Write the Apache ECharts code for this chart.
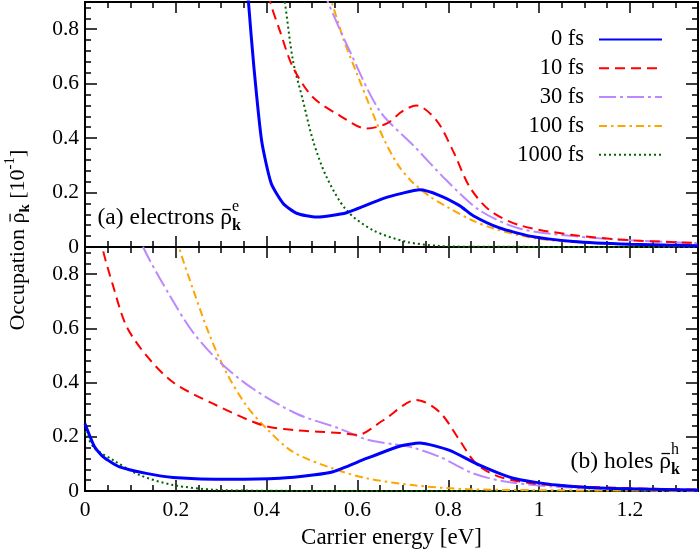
<!DOCTYPE html>
<html><head><meta charset="utf-8">
<script src="https://cdn.jsdelivr.net/npm/echarts@6/dist/echarts.min.js"></script>
<style>html,body{margin:0;padding:0;background:#fff}#c{width:700px;height:552px}</style>
</head><body><div id="c"></div>
<script>
const FONT = 'Liberation Serif';
const seriesNames = ['0 fs', '10 fs', '30 fs', '100 fs', '1000 fs'];
const xTickLabels = ['0', '0.2', '0.4', '0.6', '0.8', '1', '1.2'];
const yTickLabels = ['0', '0.2', '0.4', '0.6', '0.8'];

// (a) electrons
const e0x = [0.33, 0.360, 0.372, 0.389, 0.41, 0.436, 0.466, 0.51, 0.576, 0.656, 0.70, 0.737, 0.78, 0.825, 0.855, 0.913, 0.98, 1.075, 1.2, 1.35];
const e0y = [1.6, 0.90, 0.66, 0.39, 0.234, 0.161, 0.124, 0.11, 0.126, 0.178, 0.198, 0.21, 0.19, 0.152, 0.115, 0.07, 0.04, 0.02, 0.01, 0.005];
const e10x = [0.38, 0.408, 0.429, 0.458, 0.502, 0.561, 0.62, 0.664, 0.70, 0.73, 0.774, 0.81, 0.847, 0.891, 0.957, 1.075, 1.2, 1.35];
const e10y = [1.1, 0.9, 0.795, 0.66, 0.55, 0.483, 0.435, 0.453, 0.50, 0.52, 0.465, 0.355, 0.221, 0.135, 0.08, 0.044, 0.025, 0.015];
const e30x = [0.50, 0.535, 0.583, 0.649, 0.725, 0.796, 0.869, 0.957, 1.075, 1.2, 1.35];
const e30y = [1.05, 0.9, 0.72, 0.50, 0.37, 0.245, 0.135, 0.068, 0.04, 0.025, 0.014];
const e100x = [0.52, 0.543, 0.57, 0.598, 0.634, 0.66, 0.69, 0.72, 0.76, 0.80, 0.85, 0.90, 0.98, 1.06, 1.2, 1.35];
const e100y = [1.0, 0.9, 0.76, 0.64, 0.49, 0.39, 0.30, 0.24, 0.185, 0.145, 0.10, 0.068, 0.035, 0.02, 0.01, 0.004];
const e1000x = [0.42, 0.44, 0.458, 0.48, 0.502, 0.532, 0.576, 0.634, 0.708, 0.78, 0.85, 1.35];
const e1000y = [1.1, 0.9, 0.685, 0.538, 0.392, 0.257, 0.135, 0.062, 0.019, 0.004, 0.001, 0];

// (b) holes
const h0x = [0, 0.021, 0.04, 0.076, 0.135, 0.194, 0.319, 0.429, 0.502, 0.546, 0.62, 0.693, 0.737, 0.803, 0.869, 0.943, 1.038, 1.15, 1.35];
const h0y = [0.248, 0.163, 0.126, 0.089, 0.065, 0.05, 0.043, 0.047, 0.059, 0.071, 0.12, 0.165, 0.177, 0.15, 0.095, 0.047, 0.022, 0.01, 0.004];
const h10x = [0.03, 0.038, 0.062, 0.091, 0.135, 0.194, 0.282, 0.392, 0.466, 0.561, 0.60, 0.656, 0.73, 0.781, 0.825, 0.862, 0.913, 0.987, 1.046, 1.2, 1.35];
const h10y = [1.0, 0.9, 0.756, 0.609, 0.50, 0.401, 0.322, 0.242, 0.224, 0.214, 0.207, 0.26, 0.336, 0.291, 0.187, 0.10, 0.052, 0.028, 0.02, 0.01, 0.005];
const h30x = [0.11, 0.128, 0.187, 0.238, 0.297, 0.37, 0.466, 0.561, 0.62, 0.68, 0.722, 0.781, 0.855, 0.928, 1.038, 1.2, 1.35];
const h30y = [1.0, 0.9, 0.72, 0.585, 0.475, 0.377, 0.285, 0.23, 0.19, 0.172, 0.16, 0.126, 0.065, 0.034, 0.016, 0.007, 0.003];
const h100x = [0.195, 0.207, 0.238, 0.275, 0.311, 0.355, 0.40, 0.458, 0.546, 0.62, 0.73, 0.84, 1.0, 1.35];
const h100y = [1.0, 0.9, 0.744, 0.572, 0.438, 0.316, 0.23, 0.144, 0.083, 0.047, 0.02, 0.007, 0.003, 0.001];
const h1000x = [0, 0.02, 0.062, 0.12, 0.194, 0.282, 0.4, 0.6, 1.35];
const h1000y = [0.22, 0.16, 0.114, 0.059, 0.022, 0.005, 0.001, 0, 0];

const styles = [
  {color: '#0000ff', width: 3, type: 'solid', z: 10},
  {color: '#ff0000', width: 2, type: [10, 6], z: 5},
  {color: '#bb88ff', width: 2, type: [17, 4, 3, 4], z: 4},
  {color: '#ffa500', width: 2, type: [8, 4, 2.5, 4], z: 3},
  {color: '#006400', width: 2, type: [2, 3], z: 2}
];
const elecX = [e0x, e10x, e30x, e100x, e1000x], elecY = [e0y, e10y, e30y, e100y, e1000y];
const holeX = [h0x, h10x, h30x, h100x, h1000x], holeY = [h0y, h10y, h30y, h100y, h1000y];

function pairs(xs, ys) { return xs.map((x, i) => [x, ys[i]]); }
function tickLabel(arr, step) {
  return function (v) {
    const k = v / step, r = Math.round(k);
    return Math.abs(k - r) < 1e-6 && arr[r] !== undefined ? arr[r] : '';
  };
}
const labelFont = {fontFamily: FONT, fontSize: 21.5, color: '#000'};

function xAx(grid, pos, interval, len, labels) {
  const a = {
    type: 'value', gridIndex: grid, position: pos, min: 0, max: 1.35, interval: interval,
    axisLine: {show: true, onZero: false, lineStyle: {color: '#000', width: 2}},
    axisTick: {show: true, inside: true, length: len, lineStyle: {color: '#000', width: 1.5}},
    splitLine: {show: false},
    axisLabel: {show: false}
  };
  if (labels) {
    a.axisLabel = Object.assign({show: true, margin: 8, showMaxLabel: false, formatter: tickLabel(xTickLabels, 0.2)}, labelFont);
    a.name = 'Carrier energy [eV]';
    a.nameLocation = 'middle';
    a.nameGap = 35;
    a.nameTextStyle = {fontFamily: FONT, fontSize: 23, color: '#000'};
  }
  return a;
}
function yAx(grid, pos, interval, len, labels) {
  const a = {
    type: 'value', gridIndex: grid, position: pos, min: 0, max: 0.9, interval: interval,
    axisLine: {show: true, onZero: false, lineStyle: {color: '#000', width: 2}},
    axisTick: {show: true, inside: true, length: len, lineStyle: {color: '#000', width: 1.5}},
    splitLine: {show: false},
    axisLabel: {show: false}
  };
  if (labels) {
    a.axisLabel = Object.assign({show: true, margin: 6, showMaxLabel: false, formatter: tickLabel(yTickLabels, 0.2)}, labelFont);
  }
  return a;
}

const xAxes = [], yAxes = [];
[0, 1].forEach(g => {
  xAxes.push(xAx(g, 'bottom', 0.2, 11, g === 1));
  xAxes.push(xAx(g, 'bottom', 0.05, 6, false));
  xAxes.push(xAx(g, 'top', 0.2, 11, false));
  xAxes.push(xAx(g, 'top', 0.05, 6, false));
  yAxes.push(yAx(g, 'left', 0.2, 12, true));
  yAxes.push(yAx(g, 'left', 0.04, 6, false));
  yAxes.push(yAx(g, 'right', 0.2, 12, false));
  yAxes.push(yAx(g, 'right', 0.04, 6, false));
});

const series = [];
[[elecX, elecY, 0], [holeX, holeY, 1]].forEach(([XS, YS, g]) => {
  seriesNames.forEach((name, i) => {
    const s = styles[i];
    series.push({
      name: name, type: 'line', xAxisIndex: g * 4, yAxisIndex: g * 4,
      data: pairs(XS[i], YS[i]), symbol: 'none', showSymbol: false,
      smooth: i === 0 ? 0.2 : 0.3, clip: true, z: s.z, silent: true,
      lineStyle: {color: s.color, width: s.width, type: s.type},
      itemStyle: {color: s.color}
    });
  });
});

// --- math-like labels laid out as text tokens ---
const mctx = document.createElement('canvas').getContext('2d');
function tw(t, size, bold) {
  mctx.font = (bold ? 'bold ' : 'normal ') + size + 'px "' + FONT + '"';
  return mctx.measureText(t).width;
}
// tokens: {t, s, b, dy, bar, sameX}
function layoutTokens(tokens) {
  let x = 0, prevX = 0;
  const kids = [];
  tokens.forEach(tk => {
    const w = tw(tk.t, tk.s, tk.b);
    const x0 = tk.sameX ? prevX : x;
    kids.push({type: 'text', x: x0, y: tk.dy || 0, silent: true,
      style: {text: tk.t, fontFamily: FONT, fontSize: tk.s, fontWeight: tk.b ? 'bold' : 'normal', fill: '#000', align: 'left', verticalAlign: 'middle'}});
    if (tk.bar) {
      kids.push({type: 'line', silent: true, shape: {x1: x0 + w * 0.18, y1: -0.36 * tk.s, x2: x0 + w * 0.9, y2: -0.36 * tk.s},
        style: {stroke: '#000', lineWidth: 1.3}});
    }
    prevX = x0;
    x = Math.max(x, x0 + w);
  });
  return {kids, width: x};
}
const yTitle = layoutTokens([
  {t: 'Occupation ', s: 22}, {t: '\u03C1', s: 22, bar: true}, {t: 'k', s: 15, b: true, dy: 7},
  {t: ' [10', s: 22}, {t: '-1', s: 15, dy: -8}, {t: ']', s: 22}
]);
const annA = layoutTokens([
  {t: '(a) electrons ', s: 23.5}, {t: '\u03C1', s: 23.5, bar: true},
  {t: 'k', s: 16, b: true, dy: 8}, {t: 'e', s: 16, dy: -11, sameX: true}
]);
const annB = layoutTokens([
  {t: '(b) holes ', s: 23.5}, {t: '\u03C1', s: 23.5, bar: true},
  {t: 'k', s: 16, b: true, dy: 8}, {t: 'h', s: 16, dy: -12, sameX: true}
]);

const chart = echarts.init(document.getElementById('c'), null, {renderer: 'canvas'});
chart.setOption({
  animation: false,
  backgroundColor: '#fff',
  grid: [
    {left: 85, right: 2, top: 2, height: 245},
    {left: 85, right: 2, top: 247, height: 244}
  ],
  xAxis: xAxes,
  yAxis: yAxes,
  legend: {
    data: seriesNames, orient: 'vertical', align: 'right',
    right: 37, top: 28, padding: 0,
    itemWidth: 63, itemHeight: 14, itemGap: 5.8,
    itemStyle: {opacity: 0},
    textStyle: {fontFamily: FONT, fontSize: 22.5, lineHeight: 21, color: '#000', padding: [0, 10, 0, 0]},
    selectedMode: false
  },
  series: series,
  graphic: [
    {type: 'group', x: 18, y: 240 + yTitle.width / 2, rotation: Math.PI / 2, children: yTitle.kids},
    {type: 'group', x: 97.5, y: 218, children: annA.kids},
    {type: 'group', x: 680 - annB.width, y: 462, children: annB.kids}
  ]
});
</script>
</body></html>
